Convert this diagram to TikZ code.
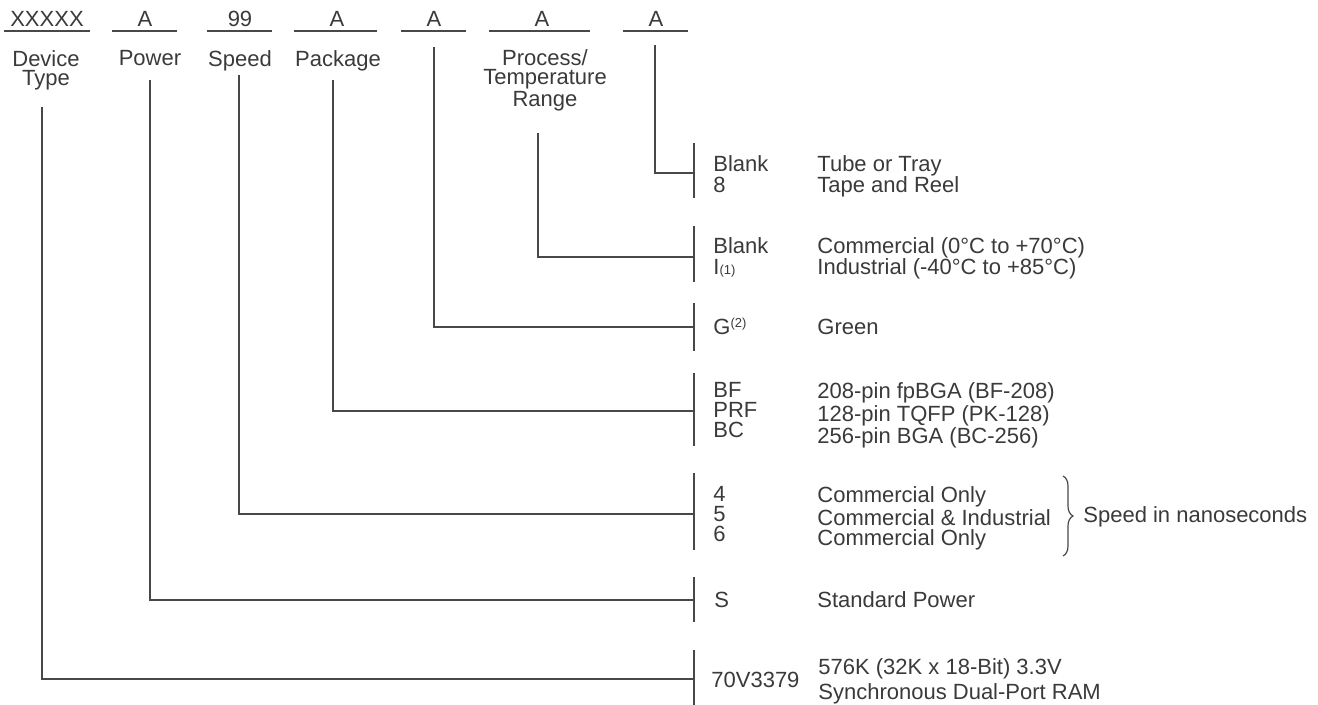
\documentclass[tikz,border=0pt]{standalone}
\usepackage{fontspec}
\setmainfont{Liberation Sans}
\usetikzlibrary{
  positioning,
  decorations.pathreplacing
}
\definecolor{inkgray}{RGB}{58,58,58}
\definecolor{leadgray}{RGB}{72,72,72}
\newcommand{\notemark}[1]{{\fontsize{6.5}{6.5}\selectfont(#1)}}

\begin{document}
\begin{tikzpicture}[x=0.5pt, y=-0.5pt, text=inkgray,
  field/.style={anchor=base, inner sep=0pt, font=\fontsize{11}{11}\selectfont},
  caption/.style={anchor=north, align=center, inner sep=0pt, font=\fontsize{11}{9.4}\selectfont},
  codes/.style={anchor=north west, align=left, inner sep=0pt, font=\fontsize{11}{#1}\selectfont},
  codes/.default={10.5},
  oneline/.style={anchor=base west, inner sep=0pt, font=\fontsize{11}{11}\selectfont},
  lead/.style={draw=leadgray, line width=0.7pt}]
  \useasboundingbox (0,0) rectangle (1318,705);
  % part number fields
  \node[field] (fdev) at (47,27) {XXXXX};
  \node[field] (fpow) at (145,27) {A};
  \node[field] (fspd) at (240,27) {99};
  \node[field] (fpkg) at (337,27) {A};
  \node[field] (fgrn) at (434,27) {A};
  \node[field] (ftmp) at (542,27) {A};
  \node[field] (fship) at (656,27) {A};
  \draw[lead] (4,31) -- (90,31);
  \draw[lead] (112,31) -- (177,31);
  \draw[lead] (207,31) -- (272,31);
  \draw[lead] (294,31) -- (377,31);
  \draw[lead] (401,31) -- (466,31);
  \draw[lead] (489,31) -- (590,31);
  \draw[lead] (623,31) -- (688,31);
  % field captions
  \node[caption] (cdev) at (46,50.3) {Device\\Type};
  \node[caption] (cpow) at (150,50.3) {Power};
  \node[caption] (cspd) at (240,50.3) {Speed};
  \node[caption] (cpkg) at (338,50.3) {Package};
  \node[caption] (ctmp) at (545,49.3) {Process/\\Temperature\\Range};
  % option lists
  \node[codes] (kship) at (713,155.3) {Blank\\8};
  \node[codes] (dship) at (817,155.3) {Tube or Tray\\Tape and Reel};
  \node[codes] (ktmp) at (713,237.3) {Blank\\I\notemark{1}};
  \node[codes] (dtmp) at (817,237.3) {Commercial (0°C to +70°C)\\Industrial (-40°C to +85°C)};
  \node[oneline] (kgrn) at (713,335) {G\textsuperscript{\fontsize{6.5}{6.5}\selectfont(2)}};
  \node[oneline] (dgrn) at (817,335) {Green};
  \node[codes=10] (kpkg) at (713,382.3) {BF\\PRF\\BC};
  \node[codes=10] (dpkg) at (817,382.3) {208-pin fpBGA (BF-208)\\128-pin TQFP (PK-128)\\256-pin BGA (BC-256)};
  \node[codes=10] (kspd) at (713,486.3) {4\\5\\6};
  \node[codes=10] (dspd) at (817,486.3) {Commercial Only\\Commercial \& Industrial\\Commercial Only};
  \node[oneline] (nspd) at (1083,523) {Speed in nanoseconds};
  \node[oneline] (kpow) at (714,608) {S};
  \node[oneline] (dpow) at (817,608) {Standard Power};
  \node[oneline] (kdev) at (711,687) {70V3379};
  \node[codes=12.5] (ddev) at (818,658.3) {576K (32K x 18-Bit) 3.3V\\Synchronous Dual-Port RAM};
  % bars
  \draw[lead] (694,143) -- (694,198);
  \draw[lead] (694,226) -- (694,282);
  \draw[lead] (694,303) -- (694,351);
  \draw[lead] (694,373) -- (694,446);
  \draw[lead] (694,473) -- (694,550);
  \draw[lead] (694,577) -- (694,622);
  \draw[lead] (694,650) -- (694,705);
  % leaders
  \coordinate (tship) at (655,45);   \coordinate (bship) at (694,173);
  \coordinate (ttmp) at (538,133);   \coordinate (btmp) at (694,257);
  \coordinate (tgrn) at (434,47);    \coordinate (bgrn) at (694,327);
  \coordinate (tpkg) at (333,80);    \coordinate (bpkg) at (694,411);
  \coordinate (tspd) at (239,75);    \coordinate (bspd) at (694,514);
  \coordinate (tpow) at (150,80);    \coordinate (bpow) at (694,600);
  \coordinate (tdev) at (42,107);    \coordinate (bdev) at (694,679);
  \draw[lead] (tship) |- (bship);
  \draw[lead] (ttmp) |- (btmp);
  \draw[lead] (tgrn) |- (bgrn);
  \draw[lead] (tpkg) |- (bpkg);
  \draw[lead] (tspd) |- (bspd);
  \draw[lead] (tpow) |- (bpow);
  \draw[lead] (tdev) |- (bdev);
  % speed brace
  \coordinate (brtop) at (1063,476);
  \coordinate (brbot) at (1063,556);
  \draw[draw=leadgray, line width=0.6pt, decorate, decoration={brace, amplitude=5pt}] (brtop) -- (brbot);
\end{tikzpicture}
\end{document}
